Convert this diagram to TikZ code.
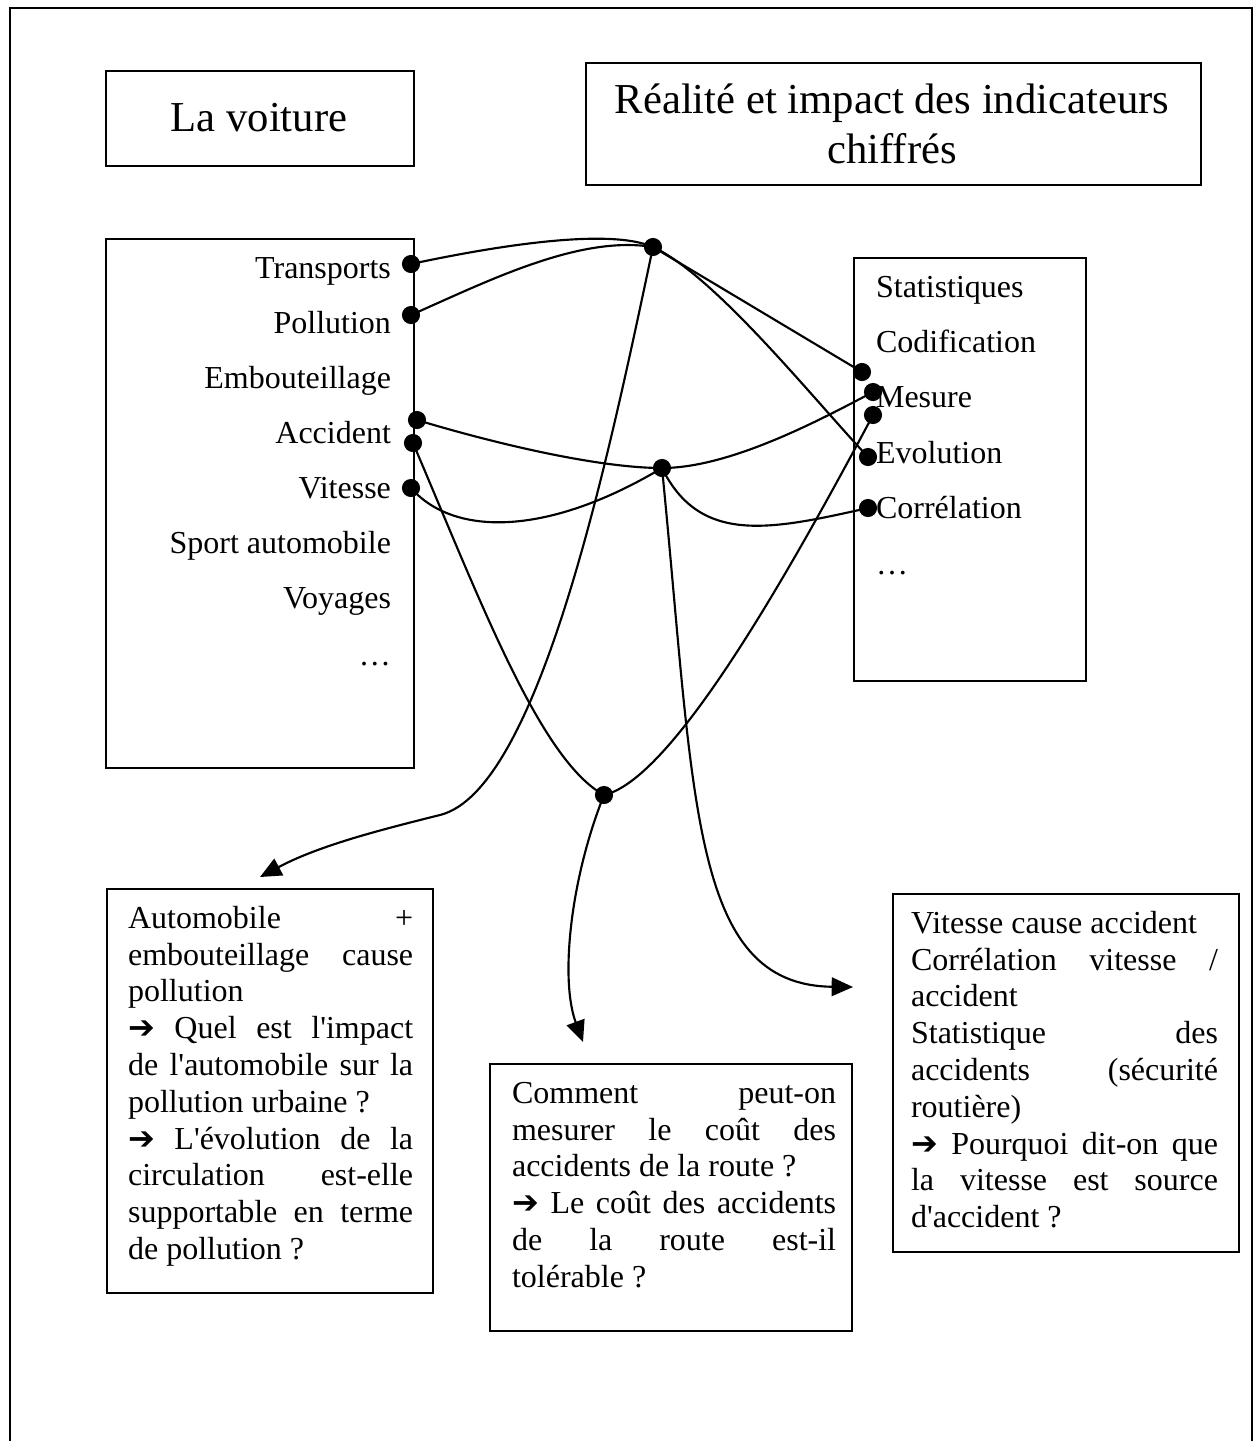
\documentclass[tikz,border=0pt]{standalone}
\usepackage{fontspec}
\setmainfont{Liberation Serif}[Ligatures=TeXOff]
\newfontfamily\symf{DejaVu Sans}
\usetikzlibrary{arrows.meta}
\newcommand{\arw}{{\symf ➔}}
\newcommand{\jl}[2]{\makebox[#1][s]{#2}}
\begin{document}
\begin{tikzpicture}[x=0.375pt,y=-0.375pt, line width=0.8pt,
  box/.style={draw, line width=0.8pt, inner sep=0, anchor=north west},
  dot/.style={circle, fill, draw=none, inner sep=0, minimum size=6.8pt},
  lab/.style={font=\fontsize{12}{13.8}\selectfont, inner sep=0},
  big/.style={font=\fontsize{16}{18.75}\selectfont},
  arr/.style={-{Triangle[length=8pt,width=7pt]}}]
\useasboundingbox (0,0) rectangle (1258,1441);
% outer frame
\draw (10,1441) -- (10,8) -- (1252,8) -- (1252,1441);
% title boxes
\node[box, minimum width=115.5pt, minimum height=35.625pt] (vbox) at (105,70) {};
\node[big, inner sep=0] (voit) at (259,118) {La voiture};
\node[box, minimum width=230.6pt, minimum height=45.75pt] (tbox) at (585,62) {};
\node[big, inner sep=0, align=center] (titre) at (892,124) {Réalité et impact des indicateurs\\chiffrés};
% list boxes
\node[box, minimum width=115.5pt, minimum height=198.4pt] (lbox) at (105,238) {};
\node[box, minimum width=87pt, minimum height=158.6pt] (rbox) at (853,257) {};
% left list
\node[lab, anchor=base east] (l1) at (392,278) {Transports};
\node[lab, anchor=base east] (l2) at (392,333) {Pollution};
\node[lab, anchor=base east] (l3) at (392,388) {Embouteillage};
\node[lab, anchor=base east] (l4) at (392,443) {Accident};
\node[lab, anchor=base east] (l5) at (392,498) {Vitesse};
\node[lab, anchor=base east] (l6) at (392,553) {Sport automobile};
\node[lab, anchor=base east] (l7) at (392,608) {Voyages};
\node[lab, anchor=base east] (l8) at (392,665) {…};
% right list
\node[lab, anchor=base west] (r1) at (875,297) {Statistiques};
\node[lab, anchor=base west] (r2) at (875,352) {Codification};
\node[lab, anchor=base west] (r3) at (875,407) {Mesure};
\node[lab, anchor=base west] (r4) at (875,463) {Evolution};
\node[lab, anchor=base west] (r5) at (875,518) {Corrélation};
\node[lab, anchor=base west] (r6) at (875,574) {…};
% bottom boxes
\node[box, minimum width=122.25pt, minimum height=151.5pt] (b1) at (106,888) {};
\node[box, minimum width=135.75pt, minimum height=100.1pt] (b2) at (489,1063) {};
\node[box, minimum width=129.75pt, minimum height=134.25pt] (b3) at (892,893) {};
\node[lab, anchor=north west, align=left] (q1) at (127,905) {%
\jl{106.9pt}{Automobile +}\\
\jl{106.9pt}{embouteillage cause}\\
pollution\\
\jl{106.9pt}{\arw{} Quel est l'impact}\\
\jl{106.9pt}{de l'automobile sur la}\\
pollution urbaine ?\\
\jl{106.9pt}{\arw{} L'évolution de la}\\
\jl{106.9pt}{circulation est-elle}\\
\jl{106.9pt}{supportable en terme}\\
de pollution ?};
\node[lab, anchor=north west, align=left] (q2) at (511,1081) {%
\jl{121.5pt}{Comment peut-on}\\
\jl{121.5pt}{mesurer le coût des}\\
accidents de la route ?\\
\jl{121.5pt}{\arw{} Le coût des accidents}\\
\jl{121.5pt}{de la route est-il}\\
tolérable ?};
\node[lab, anchor=north west, align=left] (q3) at (910,910) {%
Vitesse cause accident\\
\jl{115.1pt}{Corrélation vitesse /}\\
accident\\
\jl{115.1pt}{Statistique des}\\
\jl{115.1pt}{accidents (sécurité}\\
routière)\\
\jl{115.1pt}{\arw{} Pourquoi dit-on que}\\
\jl{115.1pt}{la vitesse est source}\\
d'accident ?};
% dots
\node[dot] (dT) at (411,264) {};
\node[dot] (dP) at (411,315) {};
\node[dot] (dA1) at (417,420) {};
\node[dot] (dA2) at (413,443) {};
\node[dot] (dV) at (411,488) {};
\node[dot] (h1) at (653,247) {};
\node[dot] (h2) at (662,468) {};
\node[dot] (h3) at (604,795) {};
\node[dot] (dR1) at (862,372) {};
\node[dot] (dMe) at (873,392) {};
\node[dot] (dR3) at (873,415) {};
\node[dot] (dEv) at (868,457) {};
\node[dot] (dCo) at (868,508) {};
\coordinate (k1) at (440,815);
\coordinate (e1) at (260,877);
\coordinate (e2) at (583,1042);
\coordinate (e3) at (853,987);
% connectors
\draw (dT.center) .. controls (500,245) and (610,228) .. (h1.center);
\draw (dP.center) .. controls (490,280) and (580,235) .. (h1.center);
\draw (h1.center) -- (dR1.center);
\draw (h1.center) .. controls (715,276) and (810,395) .. (dEv.center);
\draw[arr] (h1.center) .. controls (610,450) and (540,790) .. (k1) .. controls (384,829) and (320,845) .. (e1);
\draw (dA1.center) .. controls (500,445) and (600,468) .. (h2.center) .. controls (730,468) and (820,420) .. (dMe.center);
\draw (dV.center) .. controls (455,538) and (550,535) .. (h2.center);
\draw (h2.center) .. controls (700,545) and (770,530) .. (dCo.center);
\draw[arr] (h2.center) .. controls (695,800) and (690,985) .. (e3);
\draw (dA2.center) .. controls (480,600) and (540,760) .. (h3.center) .. controls (670,780) and (780,590) .. (dR3.center);
\draw[arr] (h3.center) .. controls (570,880) and (560,980) .. (e2);
\end{tikzpicture}
\end{document}
